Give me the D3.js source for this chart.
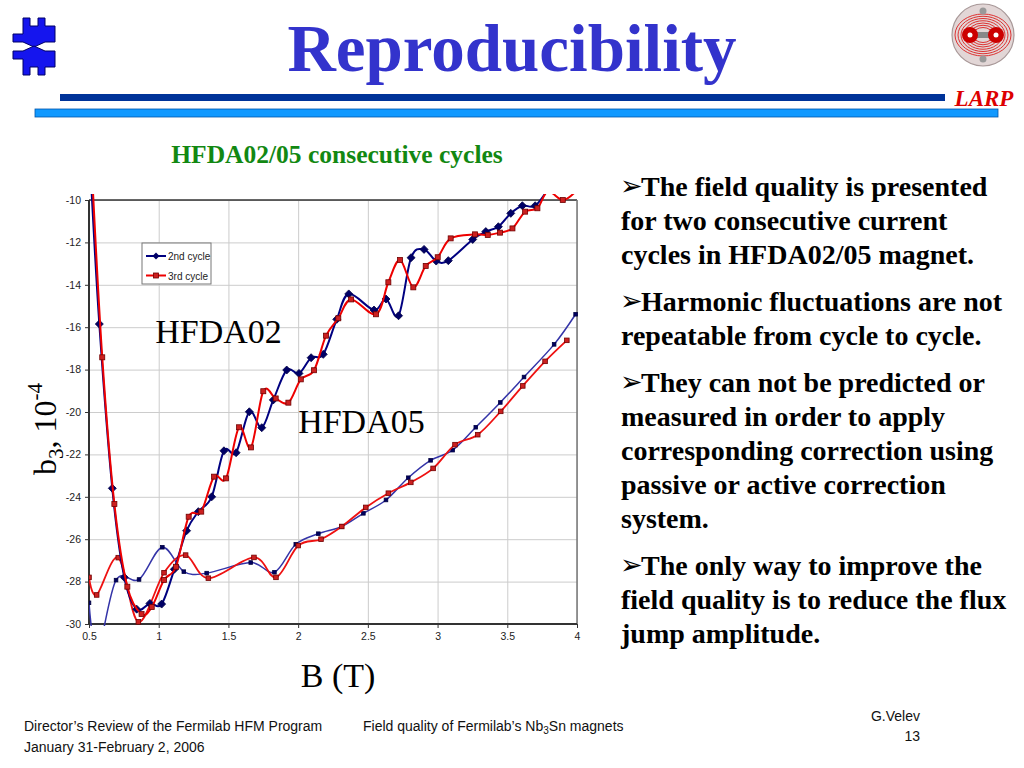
<!DOCTYPE html>
<html>
<head>
<meta charset="utf-8">
<title>Reproducibility</title>
<script src="https://d3js.org/d3.v7.min.js"></script>
<style>
  body { margin: 0; background: #fff; }
  svg text { font-family: "Liberation Serif", "Times New Roman", serif; }
  .axis .tick text { font-family: "Liberation Sans Narrow", "Liberation Sans", Arial, sans-serif; font-size: 10.5px; fill: #222; }
  .axis .tick line { stroke: #333; }
  .axis .domain { display: none; }
  .grid .tick line { stroke: #cccccc; stroke-width: 1; }
  .grid .tick text, .grid .domain { display: none; }
  .legend text { font-family: "Liberation Sans Narrow", "Liberation Sans", Arial, sans-serif; font-size: 10px; fill: #222; }
  .bullet { font-weight: bold; font-size: 28px; fill: #000; }
  .foot { font-family: "Liberation Sans", Arial, sans-serif; font-size: 14px; fill: #111; }
</style>
</head>
<body>
<svg id="slide" width="1024" height="768"></svg>
<script>
// ---- data (B in T, b3 in units of 1e-4) ----
var xTicks = [0.5, 1, 1.5, 2, 2.5, 3, 3.5, 4];
var yTicks = [-10, -12, -14, -16, -18, -20, -22, -24, -26, -28, -30];

// HFDA02, 2nd cycle
var a2x = [0.51, 0.574, 0.667, 0.753, 0.842, 0.937, 1.021, 1.112, 1.2, 1.284, 1.38, 1.468, 1.555, 1.65, 1.739, 1.822, 1.918, 2.006, 2.093, 2.18, 2.277, 2.363, 2.544, 2.63, 2.72, 2.81, 2.903, 2.99, 3.077, 3.252, 3.346, 3.436, 3.525, 3.608, 3.7, 3.8];
var a2y = [-8.5, -15.85, -23.6, -27.8, -29.3, -29.03, -29.06, -27.42, -25.6, -24.7, -24.0, -21.83, -21.92, -19.99, -20.74, -19.43, -18.02, -18.18, -17.44, -17.28, -15.63, -14.43, -15.19, -14.67, -15.46, -12.72, -12.33, -12.88, -12.86, -11.86, -11.49, -11.26, -10.63, -10.27, -10.27, -9.4];
// HFDA02, 3rd cycle
var a3x = [0.52, 0.595, 0.682, 0.775, 0.877, 0.95, 1.038, 1.124, 1.215, 1.305, 1.397, 1.483, 1.576, 1.662, 1.75, 1.839, 1.93, 2.019, 2.114, 2.2, 2.288, 2.38, 2.559, 2.647, 2.731, 2.826, 2.915, 3.001, 3.094, 3.269, 3.36, 3.448, 3.537, 3.628, 3.716, 3.79, 3.898, 3.99];
var a3y = [-8.5, -17.42, -24.34, -28.24, -29.53, -29.2, -27.92, -27.3, -24.94, -24.7, -23.05, -23.13, -20.72, -21.67, -19.02, -19.36, -19.56, -18.46, -18.03, -16.4, -15.58, -14.69, -15.39, -13.88, -12.83, -14.12, -13.11, -12.7, -11.81, -11.62, -11.65, -11.54, -11.34, -10.55, -10.39, -9.6, -10.0, -9.6];
// HFDA05, 2nd cycle
var b2x = [0.5, 0.56, 0.694, 0.859, 1.026, 1.18, 1.344, 1.66, 1.83, 1.983, 2.145, 2.313, 2.468, 2.63, 2.79, 2.95, 3.108, 3.274, 3.45, 3.62, 3.836, 3.99];
var b2y = [-29.0, -31.3, -27.93, -27.9, -26.38, -27.53, -27.6, -27.1, -27.56, -26.24, -25.74, -25.4, -24.78, -24.15, -23.1, -22.28, -21.8, -20.72, -19.55, -18.35, -16.81, -15.39];
// HFDA05, 3rd cycle
var b3x = [0.5, 0.555, 0.71, 0.854, 1.038, 1.193, 1.356, 1.683, 1.841, 2.001, 2.164, 2.313, 2.485, 2.647, 2.808, 2.968, 3.125, 3.288, 3.453, 3.611, 3.771, 3.927];
var b3y = [-27.8, -28.63, -26.87, -29.9, -27.58, -26.75, -27.84, -26.86, -27.8, -26.3, -26.0, -25.4, -24.5, -23.83, -23.32, -22.66, -21.54, -21.07, -19.97, -18.77, -17.61, -16.62];

var legendLabels = ["2nd cycle", "3rd cycle"];

var bullets = [
    ["The field quality is presented", "for two consecutive current", "cycles in HFDA02/05 magnet."],
    ["Harmonic fluctuations are not", "repeatable from cycle to cycle."],
    ["They can not be predicted or", "measured in order to apply", "corresponding correction using", "passive or active correction", "system."],
    ["The only way to improve the", "field quality is to reduce the flux", "jump amplitude."]
];

function pairs(xs, ys) {
    return xs.map(function(d, i) { return { x: d, y: ys[i] }; });
}

var svg = d3.select("#slide");
svg.append("rect").attr("width", 1024).attr("height", 768).attr("fill", "#fff");

// ---- slide header ----
svg.append("text")
    .attr("x", 512).attr("y", 71)
    .attr("text-anchor", "middle")
    .attr("font-size", 67).attr("font-weight", "bold")
    .attr("fill", "#3333cc")
    .text("Reproducibility");

svg.append("rect").attr("x", 60).attr("y", 94).attr("width", 885).attr("height", 7).attr("fill", "#003399");
svg.append("rect").attr("x", 35).attr("y", 109).attr("width", 963).attr("height", 8)
    .attr("fill", "#1199ff").attr("stroke", "#0055aa").attr("stroke-width", 0.8);

svg.append("text")
    .attr("x", 984).attr("y", 106)
    .attr("text-anchor", "middle")
    .attr("font-size", 23).attr("font-weight", "bold").attr("font-style", "italic")
    .attr("fill", "#dd0000")
    .text("LARP");

// fermilab logo (rough)
var fl = svg.append("g").attr("transform", "translate(13,18)")
    .attr("fill", "#1515ee").attr("stroke", "#000066").attr("stroke-width", 1);
var halfTop = "M10,0 H17 V8 H25 V0 H32 V8 H42 V16 H42 V24 H32 L21,29 L10,24 H0 V16 H10 Z";
fl.append("path").attr("d", halfTop);
fl.append("path").attr("d", halfTop).attr("transform", "translate(0,57) scale(1,-1)");

// larp logo (rough)
var lg = svg.append("g").attr("transform", "translate(983,35)");
lg.append("circle").attr("r", 31).attr("fill", "#e2d6d6").attr("stroke", "#a89898").attr("stroke-width", 1.2);
[28, 25, 22, 19, 16, 13, 10].forEach(function(r) {
    lg.append("ellipse").attr("rx", r).attr("ry", r * 0.75).attr("fill", "none")
        .attr("stroke", "#dd3333").attr("stroke-width", 1);
});
lg.append("rect").attr("x", -15).attr("y", -3).attr("width", 30).attr("height", 6).attr("fill", "#888");
[-13, 13].forEach(function(cx) {
    lg.append("circle").attr("cx", cx).attr("r", 8).attr("fill", "#cc0000");
    lg.append("circle").attr("cx", cx).attr("r", 2.5).attr("fill", "#fff");
});
lg.append("circle").attr("cy", -24).attr("r", 3.5).attr("fill", "#999");
lg.append("circle").attr("cy", 24).attr("r", 3.5).attr("fill", "#999");

// ---- chart ----
var margin = { left: 89, top: 200 };
var width = 488, height = 424;

svg.append("text")
    .attr("x", 337).attr("y", 163)
    .attr("text-anchor", "middle")
    .attr("font-size", 25.5).attr("font-weight", "bold")
    .attr("fill", "#128812")
    .text("HFDA02/05 consecutive cycles");

var chart = svg.append("g").attr("transform", "translate(" + margin.left + "," + margin.top + ")");

var xChart = d3.scaleLinear().domain([0.5, 4]).range([0, width]);
var yChart = d3.scaleLinear().domain([-30, -10]).range([height, 0]);

chart.append("g").attr("class", "grid")
    .call(d3.axisLeft(yChart).tickValues(yTicks).tickSize(-width));
chart.append("g").attr("class", "grid")
    .attr("transform", "translate(0," + height + ")")
    .call(d3.axisBottom(xChart).tickValues(xTicks).tickSize(-height));

chart.append("g").attr("class", "axis")
    .call(d3.axisLeft(yChart).tickValues(yTicks).tickSize(4).tickPadding(4).tickFormat(function(d) { return String(d); }));
chart.append("g").attr("class", "axis")
    .attr("transform", "translate(0," + height + ")")
    .call(d3.axisBottom(xChart).tickValues(xTicks).tickSize(4).tickPadding(5).tickFormat(function(d) { return String(d); }));

// frame
chart.append("line").attr("x1", 0).attr("x2", width).attr("y1", 0).attr("y2", 0).attr("stroke", "#333").attr("stroke-width", 1.5);
chart.append("line").attr("x1", width).attr("x2", width).attr("y1", 0).attr("y2", height).attr("stroke", "#777").attr("stroke-width", 1.5);
chart.append("line").attr("x1", 0).attr("x2", width).attr("y1", height).attr("y2", height).attr("stroke", "#333").attr("stroke-width", 2);
chart.append("line").attr("x1", 0).attr("x2", 0).attr("y1", 0).attr("y2", height).attr("stroke", "#333").attr("stroke-width", 2);

chart.append("clipPath").attr("id", "plotclip")
    .append("rect").attr("x", 0).attr("y", -6).attr("width", width + 2).attr("height", height + 8);

var line = d3.line()
    .x(function(d) { return xChart(d.x); })
    .y(function(d) { return yChart(d.y); })
    .curve(d3.curveCardinal.tension(0));

var series = [
    { data: pairs(b2x, b2y), color: "#3434a8", width: 1.5, mark: "square", size: 3.6, fill: "#000060", edge: "#000040" },
    { data: pairs(b3x, b3y), color: "#ee1111", width: 1.8, mark: "square", size: 4.6, fill: "#cc2020", edge: "#700000" },
    { data: pairs(a2x, a2y), color: "#000080", width: 2, mark: "diamond", size: 4, fill: "#000066", edge: "#000044" },
    { data: pairs(a3x, a3y), color: "#ee0000", width: 2, mark: "square", size: 5, fill: "#cc2020", edge: "#700000" }
];

var plot = chart.append("g").attr("clip-path", "url(#plotclip)");

series.forEach(function(s) {
    plot.append("path")
        .datum(s.data)
        .attr("fill", "none")
        .attr("stroke", s.color)
        .attr("stroke-width", s.width)
        .attr("d", line);

    var inside = s.data.filter(function(d) { return d.y >= -30.1 && d.y <= -9.95; });
    var g = plot.append("g");
    if (s.mark === "diamond") {
        g.selectAll("path").data(inside).enter().append("path")
            .attr("d", function(d) {
                var cx = xChart(d.x), cy = yChart(d.y), r = s.size;
                return "M" + cx + "," + (cy - r) + "L" + (cx + r) + "," + cy + "L" + cx + "," + (cy + r) + "L" + (cx - r) + "," + cy + "Z";
            })
            .attr("fill", s.fill).attr("stroke", s.edge).attr("stroke-width", 0.8);
    } else {
        g.selectAll("rect").data(inside).enter().append("rect")
            .attr("x", function(d) { return xChart(d.x) - s.size / 2; })
            .attr("y", function(d) { return yChart(d.y) - s.size / 2; })
            .attr("width", s.size).attr("height", s.size)
            .attr("fill", s.fill).attr("stroke", s.edge).attr("stroke-width", 0.8);
    }
});

// legend
var legend = svg.append("g").attr("class", "legend").attr("transform", "translate(142,243)");
legend.append("rect").attr("width", 69).attr("height", 41).attr("fill", "#fff").attr("stroke", "#777").attr("stroke-width", 1);
legendLabels.forEach(function(lab, i) {
    var ly = 13 + i * 19.5;
    var s = series[2 + i];
    legend.append("line").attr("x1", 4).attr("x2", 24).attr("y1", ly).attr("y2", ly)
        .attr("stroke", s.color).attr("stroke-width", 2);
    if (s.mark === "diamond") {
        legend.append("path").attr("d", "M14," + (ly - 3.5) + "L17.5," + ly + "L14," + (ly + 3.5) + "L10.5," + ly + "Z")
            .attr("fill", s.fill);
    } else {
        legend.append("rect").attr("x", 11.5).attr("y", ly - 2.5).attr("width", 5).attr("height", 5)
            .attr("fill", s.fill).attr("stroke", s.edge).attr("stroke-width", 0.8);
    }
    legend.append("text").attr("x", 26).attr("y", ly + 4).text(lab);
});

// curve labels
chart.append("text").attr("x", xChart(0.975)).attr("y", yChart(-16.75))
    .attr("font-size", 34).attr("fill", "#000").text("HFDA02");
chart.append("text").attr("x", xChart(2.0)).attr("y", yChart(-21.0))
    .attr("font-size", 34).attr("fill", "#000").text("HFDA05");

// axis titles
var yt = svg.append("text")
    .attr("transform", "translate(56,429) rotate(-90)")
    .attr("text-anchor", "middle")
    .attr("font-size", 32).attr("fill", "#000");
yt.append("tspan").text("b");
yt.append("tspan").attr("font-size", 21).attr("dy", 7).text("3");
yt.append("tspan").attr("dy", -7).text(", 10");
yt.append("tspan").attr("font-size", 21).attr("dy", -14).text("-4");

svg.append("text").attr("x", 338).attr("y", 687)
    .attr("text-anchor", "middle")
    .attr("font-size", 34).attr("fill", "#000")
    .text("B (T)");

// ---- bullet text ----
var by = 196;
bullets.forEach(function(par) {
    par.forEach(function(txt, j) {
        if (j === 0) {
            svg.append("text").attr("x", 620).attr("y", by - 1)
                .style("font-family", "'DejaVu Sans', sans-serif")
                .attr("font-size", 27).attr("fill", "#000").text("\u27A2");
        }
        svg.append("text").attr("class", "bullet")
            .attr("x", j === 0 ? 641 : 621).attr("y", by).text(txt);
        by += 34;
    });
    by += 13;
});

// ---- footer ----
svg.append("text").attr("class", "foot").attr("x", 24).attr("y", 731)
    .text("Director\u2019s Review of the Fermilab HFM Program");
var ft = svg.append("text").attr("class", "foot").attr("x", 363).attr("y", 731);
ft.append("tspan").text("Field quality of Fermilab\u2019s Nb");
ft.append("tspan").attr("font-size", 10).attr("dy", 3).text("3");
ft.append("tspan").attr("dy", -3).text("Sn  magnets");
svg.append("text").attr("class", "foot").attr("x", 24).attr("y", 752)
    .text("January 31-February 2, 2006");
svg.append("text").attr("class", "foot").attr("x", 920).attr("y", 721)
    .attr("text-anchor", "end").text("G.Velev");
svg.append("text").attr("class", "foot").attr("x", 920).attr("y", 741)
    .attr("text-anchor", "end").text("13");
</script>
</body>
</html>
